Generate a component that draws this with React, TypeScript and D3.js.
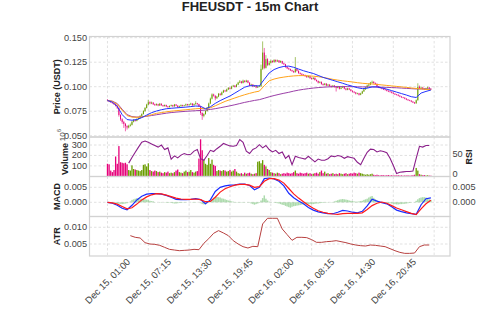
import React from "react";
import * as d3 from "d3";

const title = "FHEUSDT - 15m Chart";

const xTickIndex = [0, 25, 50, 75, 100, 125, 150, 175, 200];
const xTickLabels = [
  "Dec 15, 01:00", "Dec 15, 07:15", "Dec 15, 13:30", "Dec 15, 19:45",
  "Dec 16, 02:00", "Dec 16, 08:15", "Dec 16, 14:30", "Dec 16, 20:45", "",
];
const priceTicks = [0.05, 0.075, 0.1, 0.125, 0.15];
const volumeTicks = [100, 200, 300];
const rsiTicks = [0, 50];
const macdTicks = [0, 0.005];
const atrTicks = [0.005, 0.01];

// 15m candles, open of each bar = previous close
const firstOpen = 0.0866;
const closes = [
  0.0858, 0.0849, 0.0841, 0.0832, 0.0821, 0.0806, 0.0781, 0.0712, 0.0668, 0.0641,
  0.0621, 0.0598, 0.0584, 0.0602, 0.0611, 0.0642, 0.0661, 0.0652, 0.0671, 0.0680,
  0.0702, 0.0721, 0.0752, 0.0783, 0.0818, 0.0842, 0.0829, 0.0838, 0.0821, 0.0812,
  0.0822, 0.0809, 0.0826, 0.0811, 0.0802, 0.0813, 0.0799, 0.0792, 0.0803, 0.0811,
  0.0800, 0.0818, 0.0807, 0.0793, 0.0801, 0.0812, 0.0804, 0.0809, 0.0821, 0.0812,
  0.0819, 0.0828, 0.0811, 0.0822, 0.0831, 0.0822, 0.0801, 0.0732, 0.0702, 0.0721,
  0.0752, 0.0781, 0.0829, 0.0878, 0.0921, 0.0908, 0.0882, 0.0899, 0.0928, 0.0917,
  0.0942, 0.0961, 0.0953, 0.0972, 0.0988, 0.0979, 0.1002, 0.1011, 0.0998, 0.1021,
  0.1042, 0.1053, 0.1038, 0.1061, 0.1049, 0.1062, 0.1041, 0.1012, 0.1022, 0.1003,
  0.1011, 0.0992, 0.1001, 0.1004, 0.1182, 0.1348, 0.1192, 0.1281, 0.1222, 0.1243,
  0.1262, 0.1251, 0.1272, 0.1258, 0.1268, 0.1249, 0.1261, 0.1238, 0.1229, 0.1201,
  0.1188, 0.1179, 0.1168, 0.1159, 0.1148, 0.1181, 0.1162, 0.1139, 0.1131, 0.1122,
  0.1118, 0.1109, 0.1098, 0.1108, 0.1088, 0.1079, 0.1091, 0.1069, 0.1058, 0.1041,
  0.1049, 0.1028, 0.1019, 0.1031, 0.1012, 0.1021, 0.1008, 0.0998, 0.1011, 0.0999,
  0.0988, 0.1001, 0.0979, 0.0991, 0.1002, 0.0981, 0.0969, 0.0982, 0.0971, 0.0958,
  0.0949, 0.0941, 0.0929, 0.0932, 0.0918, 0.0931, 0.0952, 0.0973, 0.0991, 0.1012,
  0.1021, 0.1041, 0.1049, 0.1038, 0.1029, 0.1002, 0.0992, 0.0988, 0.0979, 0.0972,
  0.0968, 0.0958, 0.0951, 0.0948, 0.0938, 0.0929, 0.0921, 0.0918, 0.0908, 0.0899,
  0.0892, 0.0888, 0.0878, 0.0869, 0.0862, 0.0858, 0.0848, 0.0839, 0.0831, 0.0862,
  0.0998, 0.0982, 0.0991, 0.0979, 0.0972, 0.0983, 0.0992, 0.0979, 0.0972,
];
const highs = [
  0.0872, 0.0863, 0.0855, 0.0846, 0.0838, 0.0826, 0.0812, 0.0786, 0.0719, 0.0678,
  0.0652, 0.0630, 0.0607, 0.0612, 0.0624, 0.0650, 0.0670, 0.0668, 0.0678, 0.0688,
  0.0710, 0.0729, 0.0760, 0.0792, 0.0826, 0.0866, 0.0851, 0.0848, 0.0842, 0.0827,
  0.0830, 0.0826, 0.0834, 0.0830, 0.0815, 0.0819, 0.0817, 0.0804, 0.0810, 0.0818,
  0.0815, 0.0824, 0.0823, 0.0811, 0.0808, 0.0819, 0.0816, 0.0815, 0.0828, 0.0825,
  0.0826, 0.0836, 0.0831, 0.0829, 0.0852, 0.0835, 0.0826, 0.0805, 0.0738, 0.0729,
  0.0759, 0.0790, 0.0838, 0.0889, 0.0932, 0.0929, 0.0912, 0.0906, 0.0936, 0.0933,
  0.0951, 0.0969, 0.0968, 0.0980, 0.0996, 0.0993, 0.1010, 0.1019, 0.1016, 0.1029,
  0.1050, 0.1068, 0.1059, 0.1072, 0.1066, 0.1071, 0.1066, 0.1046, 0.1030, 0.1027,
  0.1018, 0.1015, 0.1008, 0.1012, 0.1225, 0.1462, 0.1395, 0.1322, 0.1290, 0.1262,
  0.1275, 0.1270, 0.1281, 0.1279, 0.1277, 0.1272, 0.1268, 0.1264, 0.1243, 0.1233,
  0.1206, 0.1195, 0.1184, 0.1173, 0.1164, 0.1302, 0.1189, 0.1167, 0.1146, 0.1137,
  0.1129, 0.1124, 0.1114, 0.1115, 0.1112, 0.1094, 0.1098, 0.1095, 0.1074, 0.1063,
  0.1056, 0.1053, 0.1034, 0.1038, 0.1036, 0.1028, 0.1026, 0.1013, 0.1018, 0.1016,
  0.1004, 0.1008, 0.1005, 0.0998, 0.1009, 0.1006, 0.0986, 0.0989, 0.0987, 0.0976,
  0.0963, 0.0954, 0.0946, 0.0939, 0.0937, 0.0938, 0.0959, 0.0980, 0.0998, 0.1020,
  0.1032, 0.1049, 0.1062, 0.1056, 0.1043, 0.1034, 0.1007, 0.0998, 0.0993, 0.0985,
  0.0977, 0.0973, 0.0963, 0.0957, 0.0953, 0.0943, 0.0934, 0.0926, 0.0922, 0.0913,
  0.0904, 0.0897, 0.0892, 0.0883, 0.0874, 0.0867, 0.0862, 0.0853, 0.0844, 0.0870,
  0.1035, 0.1012, 0.1002, 0.0996, 0.0985, 0.0990, 0.1001, 0.0996, 0.0984,
];
const lows = [
  0.0851, 0.0843, 0.0835, 0.0826, 0.0814, 0.0798, 0.0772, 0.0695, 0.0652, 0.0622,
  0.0580, 0.0545, 0.0563, 0.0575, 0.0593, 0.0605, 0.0636, 0.0645, 0.0647, 0.0664,
  0.0675, 0.0696, 0.0716, 0.0745, 0.0778, 0.0812, 0.0821, 0.0822, 0.0814, 0.0804,
  0.0807, 0.0801, 0.0803, 0.0805, 0.0795, 0.0797, 0.0792, 0.0785, 0.0788, 0.0798,
  0.0794, 0.0796, 0.0801, 0.0786, 0.0789, 0.0797, 0.0798, 0.0800, 0.0805, 0.0807,
  0.0808, 0.0814, 0.0805, 0.0807, 0.0818, 0.0816, 0.0794, 0.0712, 0.0662, 0.0688,
  0.0715, 0.0746, 0.0775, 0.0822, 0.0870, 0.0898, 0.0861, 0.0876, 0.0893, 0.0909,
  0.0911, 0.0936, 0.0945, 0.0948, 0.0966, 0.0971, 0.0974, 0.0996, 0.0991, 0.0994,
  0.1016, 0.1037, 0.1031, 0.1033, 0.1042, 0.1044, 0.1035, 0.1004, 0.1006, 0.0996,
  0.0997, 0.0985, 0.0987, 0.0995, 0.0999, 0.1170, 0.1178, 0.1185, 0.1210, 0.1215,
  0.1236, 0.1243, 0.1245, 0.1250, 0.1252, 0.1242, 0.1244, 0.1231, 0.1221, 0.1193,
  0.1180, 0.1171, 0.1160, 0.1151, 0.1140, 0.1143, 0.1155, 0.1131, 0.1124, 0.1115,
  0.1110, 0.1101, 0.1090, 0.1092, 0.1080, 0.1071, 0.1074, 0.1062, 0.1050, 0.1033,
  0.1035, 0.1020, 0.1011, 0.1014, 0.1005, 0.1007, 0.1001, 0.0990, 0.0993, 0.0991,
  0.0951, 0.0983, 0.0972, 0.0974, 0.0986, 0.0974, 0.0962, 0.0964, 0.0965, 0.0951,
  0.0942, 0.0934, 0.0921, 0.0922, 0.0910, 0.0913, 0.0926, 0.0947, 0.0968, 0.0986,
  0.1006, 0.1015, 0.1035, 0.1031, 0.1022, 0.0995, 0.0986, 0.0981, 0.0973, 0.0966,
  0.0961, 0.0952, 0.0945, 0.0941, 0.0932, 0.0923, 0.0915, 0.0911, 0.0902, 0.0893,
  0.0886, 0.0882, 0.0872, 0.0863, 0.0856, 0.0852, 0.0842, 0.0833, 0.0824, 0.0826,
  0.0858, 0.0975, 0.0976, 0.0972, 0.0966, 0.0968, 0.0978, 0.0973, 0.0966,
];
// volume in units of 10^6
const volumes = [
  120, 115, 55, 40, 60, 190, 120, 290, 135, 130,
  125, 130, 115, 60, 55, 105, 70, 65, 60, 55,
  50, 60, 110, 115, 95, 125, 60, 50, 45, 55,
  50, 40, 45, 35, 30, 40, 35, 45, 30, 35,
  30, 40, 55, 65, 40, 35, 30, 45, 55, 40,
  45, 60, 40, 35, 45, 50, 170, 355, 250, 160,
  120, 110, 175, 120, 160, 110, 100, 50, 60, 55,
  50, 60, 55, 45, 50, 60, 45, 55, 70, 45,
  30, 25, 30, 20, 35, 25, 30, 35, 25, 20,
  25, 30, 140, 145, 125, 155, 110, 95, 70, 60,
  40, 35, 30, 25, 35, 30, 20, 25, 30, 25,
  35, 30, 25, 30, 40, 55, 30, 25, 35, 30,
  25, 30, 35, 25, 30, 20, 25, 30, 35, 25,
  40, 55, 30, 45, 25, 30, 20, 25, 30, 20,
  25, 20, 30, 25, 20, 25, 30, 20, 25, 30,
  25, 35, 30, 25, 35, 30, 25, 20, 15, 20,
  15, 20, 25, 15, 10, 15, 10, 8, 12, 10,
  8, 10, 12, 8, 10, 7, 9, 8, 10, 7,
  9, 6, 8, 7, 9, 6, 8, 10, 15, 80,
  55, 20, 15, 10, 12, 8, 10, 7, 6,
];

// moving averages, one value every 3rd bar
const lineStep = 3;
const maFast = [
  0.0860, 0.0842, 0.0800, 0.0715, 0.0665, 0.0658, 0.0665, 0.0685, 0.0710, 0.0735,
  0.0752, 0.0765, 0.0775, 0.0780, 0.0784, 0.0788, 0.0792, 0.0797, 0.0803, 0.0800,
  0.0775, 0.0795, 0.0830, 0.0858, 0.0882, 0.0905, 0.0935, 0.0965, 0.0995, 0.1010,
  0.1010, 0.1008, 0.1075, 0.1140, 0.1175, 0.1195, 0.1207, 0.1210, 0.1198, 0.1180,
  0.1163, 0.1148, 0.1135, 0.1115, 0.1095, 0.1080, 0.1065, 0.1050, 0.1035, 0.1018,
  0.1005, 0.0990, 0.0980, 0.0985, 0.0998, 0.0998, 0.0988, 0.0975, 0.0960, 0.0945,
  0.0930, 0.0915, 0.0898, 0.0890, 0.0935, 0.0952, 0.0966,
];
const maMid = [
  0.0860, 0.0850, 0.0820, 0.0760, 0.0705, 0.0690, 0.0688, 0.0692, 0.0700, 0.0715,
  0.0728, 0.0736, 0.0744, 0.0750, 0.0755, 0.0760, 0.0765, 0.0770, 0.0775, 0.0778,
  0.0778, 0.0785, 0.0805, 0.0828, 0.0850, 0.0868, 0.0885, 0.0902, 0.0918, 0.0932,
  0.0945, 0.0955, 0.1010, 0.1060, 0.1078, 0.1090, 0.1098, 0.1105, 0.1110, 0.1113,
  0.1113, 0.1111, 0.1107, 0.1102, 0.1095, 0.1085, 0.1075, 0.1067, 0.1060, 0.1054,
  0.1048, 0.1041, 0.1035, 0.1031, 0.1028, 0.1023, 0.1018, 0.1013, 0.1008, 0.1003,
  0.0998, 0.0993, 0.0987, 0.0982, 0.0978, 0.0973, 0.0968,
];
const maSlow = [
  0.0860, 0.0852, 0.0828, 0.0770, 0.0715, 0.0695, 0.0690, 0.0692, 0.0698, 0.0706,
  0.0714, 0.0722, 0.0730, 0.0736, 0.0741, 0.0745, 0.0749, 0.0752, 0.0755, 0.0758,
  0.0762, 0.0768, 0.0776, 0.0785, 0.0795, 0.0805, 0.0816, 0.0828, 0.0840, 0.0850,
  0.0860, 0.0868, 0.0882, 0.0897, 0.0910, 0.0922, 0.0933, 0.0943, 0.0955, 0.0965,
  0.0973, 0.0980, 0.0986, 0.0991, 0.0995, 0.0998, 0.1000, 0.1001, 0.1001, 0.1001,
  0.1000, 0.0999, 0.0998, 0.0998, 0.0998, 0.0997, 0.0995, 0.0993, 0.0991, 0.0989,
  0.0986, 0.0983, 0.0980, 0.0977, 0.0977, 0.0976, 0.0975,
];

// MACD and signal, every 3rd bar
const macdLine = [
  0.0000, -0.0003, -0.0010, -0.0020, -0.0025, -0.0010, 0.0008, 0.0020, 0.0027, 0.0029,
  0.0029, 0.0027, 0.0023, 0.0017, 0.0010, 0.0009, 0.0009, 0.0010, 0.0012, 0.0009,
  -0.0005, 0.0008, 0.0036, 0.0050, 0.0055, 0.0057, 0.0058, 0.0061, 0.0061, 0.0056,
  0.0042, 0.0050, 0.0079, 0.0081, 0.0078, 0.0070, 0.0055, 0.0030, 0.0015, 0.0004,
  -0.0005, -0.0017, -0.0026, -0.0032, -0.0035, -0.0038, -0.0038, -0.0033, -0.0027, -0.0029,
  -0.0033, -0.0035, -0.0030, -0.0012, 0.0010, 0.0004, -0.0001, -0.0005, -0.0015, -0.0026,
  -0.0031, -0.0035, -0.0038, -0.0040, -0.0008, 0.0012, 0.0015,
];
const signalLine = [
  0.0000, -0.0002, -0.0006, -0.0014, -0.0022, -0.0018, -0.0006, 0.0008, 0.0018, 0.0025,
  0.0029, 0.0028, 0.0024, 0.0019, 0.0014, 0.0011, 0.0010, 0.0010, 0.0011, 0.0009,
  0.0002, 0.0003, 0.0017, 0.0034, 0.0045, 0.0052, 0.0057, 0.0060, 0.0060, 0.0057,
  0.0050, 0.0052, 0.0070, 0.0079, 0.0079, 0.0074, 0.0064, 0.0046, 0.0028, 0.0014,
  0.0002, -0.0010, -0.0020, -0.0028, -0.0033, -0.0037, -0.0039, -0.0040, -0.0038, -0.0037,
  -0.0037, -0.0037, -0.0035, -0.0024, -0.0011, -0.0003, 0.0001, -0.0003, -0.0011, -0.0019,
  -0.0025, -0.0031, -0.0037, -0.0041, -0.0022, -0.0005, 0.0007,
];
// histogram per bar, in units of 1e-4
const macdHist = [
  0, 0, -1, -1, -2, -3, -4, -5, -5, -6,
  -5, -4, -3, -1, 3, 8, 10, 12, 14, 13,
  12, 12, 11, 10, 9, 7, 5, 4, 3, 1,
  0, 0, -1, -1, 0, -1, -1, -2, -1, -2,
  -3, -4, -4, -3, -2, -2, -1, -1, -1, 0,
  0, 0, 1, 1, 1, 0, 0, -3, -6, -7,
  -7, -3, 2, 5, 10, 15, 19, 18, 17, 16,
  13, 12, 10, 8, 6, 5, 3, 2, 1, 1,
  1, 1, 1, 1, 1, 0, -1, -1, -4, -6,
  -8, -6, -4, -2, 6, 14, 23, 12, 6, 2,
  1, 0, -1, -2, -3, -4, -6, -8, -9, -12,
  -14, -16, -18, -15, -13, -12, -11, -10, -9, -8,
  -7, -7, -7, -7, -6, -6, -6, -5, -4, -4,
  -3, -2, -2, -1, -1, -1, 0, 1, 1, 3,
  5, 7, 9, 10, 11, 10, 9, 8, 6, 5,
  4, 3, 2, 2, 3, 4, 5, 8, 10, 12,
  16, 19, 21, 15, 10, 7, 3, 0, -2, -2,
  -2, -2, -3, -3, -4, -5, -6, -7, -7, -6,
  -6, -5, -5, -4, -3, -2, -1, 0, 1, 5,
  10, 14, 16, 17, 17, 16, 13, 10, 8,
];

// RSI from bar 13, every 2nd bar
const rsiStart = 13;
const rsiStep = 2;
const rsi = [
  28, 42, 55, 68, 80, 83, 80, 76, 72, 68,
  73, 62, 66, 38, 46, 41, 48, 52, 49, 50,
  58, 62, 39, 35, 47, 60, 57, 64, 70, 77,
  74, 71, 70, 72, 87, 80, 58, 52, 62, 66,
  74, 66, 72, 62, 56, 60, 52, 56, 40, 47,
  24, 45, 42, 40, 38, 45, 38, 31, 38, 35,
  35, 39, 46, 44, 47, 45, 40, 44, 42, 40,
  30, 24, 40, 55, 63, 62, 56, 59, 57, 54,
  40, 22, 2, 5, 6, 7, 7, 8, 40, 70,
  68, 72, 72,
];

// ATR from bar 14, every 3rd bar
const atrStart = 14;
const atrStep = 3;
const atr = [
  0.0075, 0.0070, 0.0068, 0.0054, 0.0050, 0.0049, 0.0046, 0.0040, 0.0034, 0.0032,
  0.0030, 0.0031, 0.0032, 0.0034, 0.0033, 0.0052, 0.0066, 0.0082, 0.0090, 0.0083,
  0.0075, 0.0060, 0.0050, 0.0042, 0.0038, 0.0043, 0.0042, 0.0110, 0.0127, 0.0127,
  0.0127, 0.0095, 0.0078, 0.0061, 0.0070, 0.0070, 0.0069, 0.0063, 0.0055, 0.0055,
  0.0057, 0.0058, 0.0060, 0.0057, 0.0054, 0.0050, 0.0047, 0.0045, 0.0044, 0.0047,
  0.0046, 0.0044, 0.0042, 0.0036, 0.0030, 0.0025, 0.0022, 0.0022, 0.0023, 0.0042,
  0.0047, 0.0047,
];

const UP = "#6a9c00";
const DOWN = "#e6007a";
const GRID = "#d9d9d9";
const FRAME = "#d2d2d2";
const FONT = "'Liberation Sans', Arial, sans-serif";
const TICK_SIZE = 9.2;

export default function App() {
  const W = 500;
  const H = 312;
  const left = 89.5;
  const right = 450;
  const price = { top: 36.5, bottom: 137 };
  const vol = { top: 137, bottom: 176.5 };
  const mac = { top: 176.5, bottom: 216.5 };
  const at = { top: 216.5, bottom: 256 };

  const x = d3.scaleLinear().domain([-11, 209.7]).range([left, right]);
  const step = x(1) - x(0);

  const yPrice = d3.scaleLinear().domain([0.0487, 0.1512]).range([price.bottom, price.top]);
  const yVol = d3.scaleLinear().domain([0, 377]).range([176.3, vol.top]);
  const yRsi = d3.scaleLinear().domain([-5.5, 93.25]).range([vol.bottom, vol.top]);
  const yMacd = d3.scaleLinear().domain([-0.00473, 0.0086]).range([mac.bottom, mac.top]);
  const yAtr = d3.scaleLinear().domain([0.00141, 0.01323]).range([at.bottom, at.top]);

  const opens = closes.map((c, i) => (i === 0 ? firstOpen : closes[i - 1]));

  const lineOf = (y: d3.ScaleLinear<number, number>, start: number, stp: number) =>
    d3.line<number>()
      .x((_, k) => x(start + k * stp))
      .y((v) => y(v));

  const panels = [price, vol, mac, at];
  const fmt3 = d3.format(".3f");

  const hGrid = (ticks: number[], y: d3.ScaleLinear<number, number>) =>
    ticks.map((t, k) => (
      <line key={k} x1={left} x2={right} y1={y(t)} y2={y(t)}
        stroke={GRID} strokeWidth={0.8} strokeDasharray="2.5,2" />
    ));

  const leftTicks = (ticks: number[], y: d3.ScaleLinear<number, number>, f: (v: number) => string) =>
    ticks.map((t, k) => (
      <text key={k} x={left - 2.5} y={y(t)} textAnchor="end" dominantBaseline="central"
        fontSize={TICK_SIZE} fill="#444">{f(t)}</text>
    ));

  const rightTicks = (ticks: number[], y: d3.ScaleLinear<number, number>, f: (v: number) => string) =>
    ticks.map((t, k) => (
      <text key={k} x={right + 2.5} y={y(t)} textAnchor="start" dominantBaseline="central"
        fontSize={TICK_SIZE} fill="#444">{f(t)}</text>
    ));

  const label = (txt: string, lx: number, ly: number, size = 9) => (
    <text transform={`translate(${lx},${ly}) rotate(-90)`} textAnchor="middle"
      dominantBaseline="central" fontSize={size} fontWeight="bold" fill="#222">{txt}</text>
  );

  return (
    <svg width={W} height={H} style={{ position: "absolute", left: 0, top: 0, background: "#fff" }}
      fontFamily={FONT}>
      <defs>
        {panels.map((p, k) => (
          <clipPath id={`clip${k}`} key={k}>
            <rect x={left} y={p.top} width={right - left} height={p.bottom - p.top} />
          </clipPath>
        ))}
      </defs>

      <text x={250} y={10.5} textAnchor="middle" fontSize={13} fontWeight="bold" fill="#222">
        {title}
      </text>

      {/* vertical grid */}
      {panels.map((p, k) =>
        xTickIndex.map((t, j) => (
          <line key={`v${k}-${j}`} x1={x(t)} x2={x(t)} y1={p.top} y2={p.bottom}
            stroke={GRID} strokeWidth={0.8} strokeDasharray="2.5,2" />
        ))
      )}
      {hGrid(priceTicks, yPrice)}
      {hGrid(volumeTicks, yVol)}
      {hGrid(macdTicks, yMacd)}
      {hGrid(atrTicks, yAtr)}

      {/* price panel */}
      <g clipPath="url(#clip0)">
        {closes.map((c, i) => {
          const o = opens[i];
          const col = c >= o ? UP : DOWN;
          const yTop = yPrice(Math.max(o, c));
          const yBot = yPrice(Math.min(o, c));
          return (
            <g key={i}>
              <line x1={x(i)} x2={x(i)} y1={yPrice(highs[i])} y2={yPrice(lows[i])}
                stroke={col} strokeWidth={0.6} />
              <rect x={x(i) - step * 0.3} width={step * 0.6} y={yTop}
                height={Math.max(0.6, yBot - yTop)} fill={col} />
            </g>
          );
        })}
        <path d={lineOf(yPrice, 0, lineStep)(maSlow) ?? ""} fill="none" stroke="#9b3fa8" strokeWidth={1} />
        <path d={lineOf(yPrice, 0, lineStep)(maMid) ?? ""} fill="none" stroke="#ffa31a" strokeWidth={1} />
        <path d={lineOf(yPrice, 0, lineStep)(maFast) ?? ""} fill="none" stroke="#2233ff" strokeWidth={1} />
      </g>

      {/* volume + RSI panel */}
      <g clipPath="url(#clip1)">
        {volumes.map((v, i) => (
          <rect key={i} x={x(i) - step * 0.4} width={step * 0.8} y={yVol(v)}
            height={yVol(0) - yVol(v)} fill={closes[i] >= opens[i] ? UP : DOWN} />
        ))}
        <path d={lineOf(yRsi, rsiStart, rsiStep)(rsi) ?? ""} fill="none" stroke="#8a1e8a" strokeWidth={1.1} />
      </g>

      {/* MACD panel */}
      <g clipPath="url(#clip2)">
        {macdHist.map((h, i) => {
          const v = h * 1e-4;
          const y0 = yMacd(0);
          const y1 = yMacd(v);
          return (
            <rect key={i} x={x(i) - step * 0.45} width={step * 0.9} y={Math.min(y0, y1)}
              height={Math.abs(y1 - y0)} fill="#5cb85c" fillOpacity={0.5} />
          );
        })}
        <path d={lineOf(yMacd, 0, lineStep)(macdLine) ?? ""} fill="none" stroke="#1a2cff" strokeWidth={1.2} />
        <path d={lineOf(yMacd, 0, lineStep)(signalLine) ?? ""} fill="none" stroke="#ff1a1a" strokeWidth={1.2} />
      </g>

      {/* ATR panel */}
      <g clipPath="url(#clip3)">
        <path d={lineOf(yAtr, atrStart, atrStep)(atr) ?? ""} fill="none" stroke="#b8403f" strokeWidth={1} />
      </g>

      {/* frames */}
      {panels.map((p, k) => (
        <rect key={k} x={left} y={p.top} width={right - left} height={p.bottom - p.top}
          fill="none" stroke={FRAME} strokeWidth={1.2} />
      ))}

      {/* tick labels */}
      {leftTicks(priceTicks, yPrice, fmt3)}
      {leftTicks(volumeTicks, yVol, (v) => String(v))}
      {leftTicks(macdTicks, yMacd, fmt3)}
      {leftTicks(atrTicks, yAtr, fmt3)}
      {rightTicks(rsiTicks, yRsi, (v) => String(v))}
      {rightTicks(macdTicks, yMacd, fmt3)}

      {xTickIndex.map((t, k) =>
        xTickLabels[k] ? (
          <text key={k} transform={`translate(${x(t)},281) rotate(-45)`} textAnchor="middle"
            dominantBaseline="central" fontSize={9.5} fill="#444">{xTickLabels[k]}</text>
        ) : null
      )}

      {/* axis labels */}
      {label("Price (USDT)", 57, (price.top + price.bottom) / 2)}
      {label("Volume", 65, 159)}
      <text transform="translate(62,135) rotate(-90)" textAnchor="middle" dominantBaseline="central"
        fontSize={8} fill="#444">
        10<tspan dy={-3} fontSize={6}>6</tspan>
      </text>
      {label("MACD", 57, (mac.top + mac.bottom) / 2)}
      {label("ATR", 57, (at.top + at.bottom) / 2)}
      {label("RSI", 469, 157)}
    </svg>
  );
}
